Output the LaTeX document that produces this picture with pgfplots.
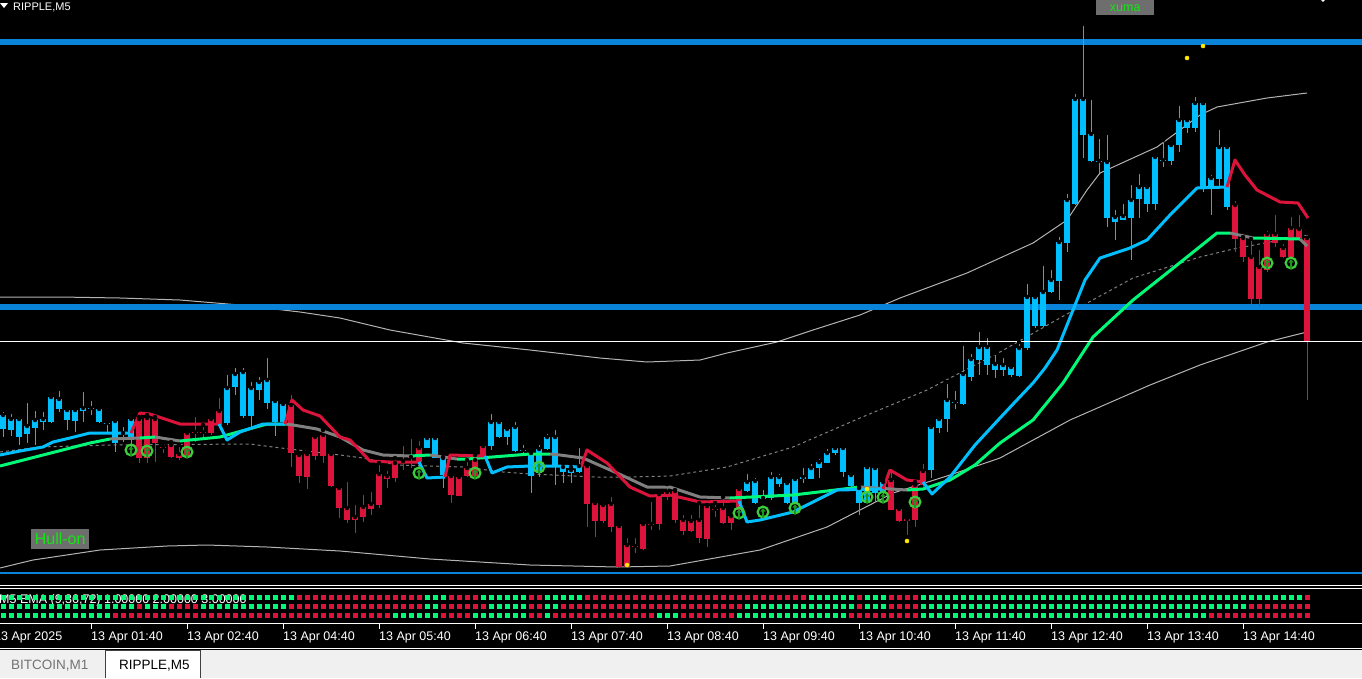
\documentclass[border=0pt]{standalone}
\usepackage{fontspec}
\setmainfont{Liberation Sans}
\usepackage{pgfplots}
\usepackage{pgfplotstable}
\pgfplotsset{compat=1.18}
\definecolor{hblue}{RGB}{10,132,216}
\definecolor{cblue}{RGB}{0,191,255}
\definecolor{cred}{RGB}{220,20,60}
\definecolor{sgreen}{RGB}{0,250,120}
\definecolor{lgray}{RGB}{128,128,128}
\definecolor{band}{RGB}{180,180,180}
\definecolor{arrowg}{RGB}{60,205,60}
\definecolor{darkg}{RGB}{30,150,30}
\definecolor{boxgray}{RGB}{110,110,110}
\definecolor{lbl}{RGB}{20,230,20}
\definecolor{tabbg}{RGB}{240,240,240}
\tikzset{tl/.style={anchor=base west, inner sep=0, text=white, font=\fontsize{12.5}{14}\selectfont}}
\pgfplotsset{gl/.style={sgreen, line width=3pt, line join=round}, yl/.style={lgray, line width=3pt, line join=round},
  bl/.style={cblue, line width=3pt, line join=round}, rl/.style={cred, line width=3pt, line join=round}}
\pgfdeclareplotmark{hullup}{%
  \pgfsetlinewidth{2.2pt}%
  \pgfsetstrokecolor{arrowg}%
  \pgfpathcircle{\pgfpointorigin}{5.4pt}%
  \pgfusepathqstroke
  \pgfsetstrokecolor{darkg}%
  \pgfsetfillcolor{darkg}%
  \pgfsetlinewidth{2.4pt}%
  \pgfpathmoveto{\pgfpoint{0pt}{-5.5pt}}\pgfpathlineto{\pgfpoint{0pt}{1pt}}%
  \pgfusepathqstroke
  \pgfpathmoveto{\pgfpoint{-2.6pt}{0.5pt}}\pgfpathlineto{\pgfpoint{2.6pt}{0.5pt}}\pgfpathlineto{\pgfpoint{0pt}{4pt}}\pgfpathclose
  \pgfusepathqfill
}
\pgfplotstableread{
i top bot hi lo b r1 r2 r3
0 415 429 410 437 1 1 1 1
1 419 430 412 436 1 1 1 1
2 419 437 415 445 1 1 1 1
3 426 434 401 443 1 1 1 1
4 420 428 409 445 1 1 1 1
5 419 422 410 430 1 1 1 1
6 397 422 393 423 1 1 1 1
7 399 409 389 412 1 1 1 1
8 410 420 408 430 1 1 1 1
9 410 421 407 432 1 1 1 1
10 408 411 390 422 1 1 1 1
11 408 409 399 415 1 1 1 1
12 409 422 407 423 1 1 1 1
13 423 424 420 433 1 1 1 1
14 421 443 418 452 1 1 1 0
15 433 434 425 442 1 1 1 0
16 419 440 418 448 1 1 1 0
17 419 458 417 463 0 1 0 0
18 418 458 415 463 0 1 1 0
19 419 443 417 462 0 1 1 0
20 447 448 443 453 0 1 1 0
21 445 457 442 458 0 1 0 0
22 454 458 445 460 0 1 0 0
23 433 457 431 457 0 1 0 0
24 432 433 415 442 0 1 0 0
25 432 433 425 437 0 1 1 0
26 419 433 415 435 0 1 1 0
27 411 425 396 427 0 1 1 0
28 388 423 373 425 1 1 1 0
29 374 387 366 395 1 1 1 0
30 372 416 366 418 1 1 1 0
31 388 416 380 427 1 1 1 0
32 382 390 375 400 1 1 1 0
33 380 403 356 409 1 1 1 0
34 401 422 398 436 1 1 1 0
35 404 422 400 423 1 1 1 0
36 405 453 393 467 0 1 0 0
37 455 476 453 483 0 0 0 0
38 454 477 452 489 0 0 0 0
39 437 456 436 460 0 0 0 0
40 435 456 430 463 0 0 0 0
41 454 486 452 487 0 0 0 0
42 488 508 486 518 0 0 0 0
43 508 520 480 523 0 0 0 0
44 517 520 503 533 0 0 0 0
45 507 517 493 522 0 0 0 0
46 504 509 490 515 0 0 0 0
47 474 505 463 508 0 0 0 0
48 476 479 469 488 0 0 0 0
49 463 478 458 482 0 0 0 1
50 461 462 444 470 0 0 0 1
51 457 458 437 468 0 0 0 1
52 448 462 439 468 0 0 0 1
53 438 448 435 448 1 1 1 1
54 438 458 437 458 1 1 1 1
55 458 475 457 488 1 1 0 0
56 476 495 475 503 0 0 0 0
57 477 496 473 496 0 0 0 0
58 468 476 460 477 0 0 0 0
59 460 476 455 477 0 0 0 1
60 446 456 445 457 0 1 0 1
61 422 446 412 450 1 1 1 1
62 422 437 420 438 1 1 1 1
63 429 437 428 445 1 1 1 1
64 427 451 420 452 1 1 1 1
65 450 451 443 453 1 1 1 1
66 453 476 450 493 1 0 0 0
67 449 473 443 477 1 0 0 0
68 437 449 432 450 1 1 1 1
69 437 467 428 485 1 1 1 0
70 467 472 463 483 1 1 0 0
71 470 473 467 483 1 1 0 0
72 466 472 446 473 1 1 0 0
73 466 504 465 527 0 0 0 0
74 503 521 502 537 0 0 0 0
75 505 521 504 523 0 0 0 0
76 504 527 495 532 0 0 0 0
77 526 567 523 568 0 0 0 0
78 545 567 536 568 0 0 0 0
79 546 547 536 553 0 0 0 0
80 524 549 522 550 0 0 0 0
81 524 525 500 530 0 0 0 0
82 494 524 493 530 0 0 0 1
83 492 497 484 500 0 0 0 1
84 491 520 490 523 0 0 0 1
85 520 531 513 535 0 0 0 0
86 521 531 513 532 0 0 0 0
87 520 538 503 543 0 0 0 0
88 506 539 505 547 0 0 0 0
89 509 510 503 517 0 0 0 0
90 508 523 497 524 0 0 0 0
91 516 523 513 530 0 0 0 0
92 489 510 488 512 0 0 0 1
93 482 491 472 492 1 0 1 1
94 481 503 476 504 1 0 1 1
95 498 499 488 500 1 0 1 1
96 477 498 470 500 1 0 1 1
97 477 484 472 487 1 0 1 1
98 483 503 482 504 1 0 1 1
99 479 503 475 504 1 0 1 1
100 477 479 466 483 1 0 1 1
101 468 479 462 479 1 1 1 1
102 462 468 457 478 1 1 1 1
103 453 463 447 463 1 1 1 1
104 448 453 448 455 1 1 1 1
105 448 472 445 477 1 1 1 1
106 475 486 473 487 1 1 1 0
107 488 503 487 515 1 0 0 0
108 467 503 467 503 1 1 1 0
109 468 493 467 502 1 1 1 0
110 482 493 480 495 1 1 1 0
111 480 510 467 510 0 0 0 0
112 509 521 508 522 0 0 0 0
113 519 521 518 535 0 0 0 0
114 485 520 482 527 0 0 0 0
115 471 485 462 487 0 1 1 1
116 427 470 425 478 1 1 1 1
117 419 428 415 433 1 1 1 1
118 400 419 382 432 1 1 1 1
119 402 403 389 409 1 1 1 1
120 374 404 344 405 1 1 1 1
121 359 377 352 381 1 1 1 1
122 347 360 330 375 1 1 1 1
123 347 365 336 375 1 1 1 1
124 364 370 353 378 1 1 1 1
125 365 370 356 376 1 1 1 1
126 367 375 366 377 1 1 1 1
127 348 376 342 377 1 1 1 1
128 297 348 282 350 1 1 1 1
129 297 326 293 328 1 1 1 1
130 292 326 264 327 1 1 1 1
131 280 292 268 293 1 1 1 1
132 242 281 235 300 1 1 1 1
133 200 243 192 252 1 1 1 1
134 99 204 92 205 1 1 1 1
135 99 135 24 158 1 1 1 1
136 134 161 98 162 1 1 1 1
137 161 162 137 173 1 1 1 1
138 162 218 133 227 1 1 1 1
139 217 222 208 240 1 1 1 1
140 216 220 202 220 1 1 1 1
141 200 218 183 260 1 1 1 1
142 187 199 172 218 1 1 1 1
143 187 204 184 212 1 1 1 1
144 157 204 153 210 1 1 1 1
145 160 161 140 167 1 1 1 1
146 145 161 142 165 1 1 1 1
147 120 145 104 152 1 1 1 1
148 120 128 120 133 1 1 1 1
149 103 128 95 132 1 1 1 1
150 103 189 103 192 1 1 1 1
151 178 189 173 215 1 1 1 0
152 147 179 128 187 1 1 1 0
153 147 207 144 210 1 1 1 0
154 205 239 199 252 0 1 1 0
155 238 257 237 262 0 1 1 0
156 257 299 239 304 0 1 0 0
157 267 299 248 306 0 1 0 0
158 234 270 229 272 0 1 0 0
159 234 243 213 247 0 1 0 0
160 248 257 242 258 0 1 0 0
161 228 257 215 258 0 1 0 0
162 229 238 213 240 0 1 0 0
163 238 342 233 400 0 0 0 0
}\candles
\begin{document}
\begin{tikzpicture}
\begin{axis}[
  name=ax, width=1362pt, height=678pt, scale only axis, hide axis,
  xmin=0, xmax=1362, ymin=0, ymax=678, y dir=reverse,
  axis background/.style={fill=black},
  unbounded coords=jump,
]
\coordinate (BL) at (axis cs:0,678);
\coordinate (TR) at (axis cs:1362,0);
% bands
\addplot[band, line width=1pt] coordinates {(0,297) (60,297) (120,298) (180,300) (240,305) (300,312) (340,318) (390,330) (463,343) (530,350) (600,358) (647,362) (700,360) (727,353) (777,342) (813,330) (860,315) (900,298) (967,273) (1033,243) (1067,220) (1087,190) (1100,173) (1157,147) (1180,130) (1200,115) (1217,107) (1267,98) (1307,93)};
\addplot[band, line width=1pt] coordinates {(0,568) (33,560) (100,550) (167,546) (207,545) (267,547) (340,551) (430,559) (530,565) (617,567) (670,566) (760,550) (827,527) (893,493) (950,475) (1000,458) (1070,420) (1150,385) (1200,365) (1267,342) (1307,332)};
\addplot[lgray, line width=1pt, dash pattern=on 3pt off 3pt] coordinates {(0,452) (40,447) (110,445) (250,444) (273,447) (340,455) (363,458) (397,465) (463,467) (503,472) (530,474) (597,477) (630,477) (670,476) (727,467) (793,447) (860,418) (927,390) (1000,352) (1067,314) (1133,278) (1200,257) (1233,249) (1307,235)};
% horizontal levels
\addplot[hblue, line width=6pt] coordinates {(0,42) (1362,42)};
\addplot[hblue, line width=6pt] coordinates {(0,307) (1362,307)};
\addplot[hblue, line width=2pt] coordinates {(0,572.5) (1362,572.5)};
% candles: wicks and bodies
\addplot[only marks, mark=none, restrict expr to domain={\thisrow{b}}{0.5:1.5},
  error bars/.cd, y dir=plus, y explicit, error mark=none,
  error bar style={line width=1pt, draw=cblue}]
  table[x expr=3+8*\thisrow{i}, y=hi, y error expr=\thisrow{lo}-\thisrow{hi}] {\candles};
\addplot[only marks, mark=none, restrict expr to domain={\thisrow{b}}{0.5:1.5},
  error bars/.cd, y dir=plus, y explicit, error mark=none,
  error bar style={line width=6.5pt, draw=cblue}]
  table[x expr=3+8*\thisrow{i}, y=top, y error expr=\thisrow{bot}-\thisrow{top}] {\candles};
\addplot[only marks, mark=none, restrict expr to domain={\thisrow{b}}{-0.5:0.5},
  error bars/.cd, y dir=plus, y explicit, error mark=none,
  error bar style={line width=1pt, draw=cred}]
  table[x expr=3+8*\thisrow{i}, y=hi, y error expr=\thisrow{lo}-\thisrow{hi}] {\candles};
\addplot[only marks, mark=none, restrict expr to domain={\thisrow{b}}{-0.5:0.5},
  error bars/.cd, y dir=plus, y explicit, error mark=none,
  error bar style={line width=6.5pt, draw=cred}]
  table[x expr=3+8*\thisrow{i}, y=top, y error expr=\thisrow{bot}-\thisrow{top}] {\candles};
% medium EMA (green / gray)
\addplot[gl] coordinates {(0,466) (43,455) (90,443) (110,439)};
\addplot[yl] coordinates {(110,439) (140,438)};
\addplot[gl] coordinates {(140,438) (155,437)};
\addplot[yl] coordinates {(155,437) (180,441)};
\addplot[gl] coordinates {(180,441) (220,437) (267,424) (285,424)};
\addplot[yl] coordinates {(285,424) (293,425) (317,429) (340,437) (363,450) (383,455) (410,456)};
\addplot[gl] coordinates {(410,456) (430,455)};
\addplot[yl] coordinates {(430,455) (457,459)};
\addplot[gl] coordinates {(457,459) (467,459) (530,454) (550,454)};
\addplot[yl] coordinates {(550,454) (560,455) (583,458) (617,473) (647,487) (670,487) (700,497) (730,498)};
\addplot[gl] coordinates {(730,498) (793,495) (827,491) (860,487)};
\addplot[yl] coordinates {(860,487) (907,490)};
\addplot[gl] coordinates {(907,490) (923,489) (950,480) (975,465) (1000,443) (1033,420) (1063,383) (1093,337) (1133,300) (1167,273) (1217,233) (1230,233)};
\addplot[yl] coordinates {(1230,233) (1253,238)};
\addplot[gl] coordinates {(1253,238) (1300,239)};
\addplot[yl] coordinates {(1300,239) (1307,246)};
% fast EMA (blue / red)
\addplot[bl] coordinates {(0,455) (20,451) (43,447) (53,442) (70,438) (90,433) (110,433) (131,433)};
\addplot[rl] coordinates {(131,433) (140,413) (150,414) (165,419) (180,424) (200,424) (219,424)};
\addplot[bl] coordinates {(219,424) (227,440) (240,432) (263,424) (285,424)};
\addplot[rl] coordinates {(285,424) (292,400) (303,410) (320,416) (340,437) (350,440) (370,461) (390,462) (419,462)};
\addplot[bl] coordinates {(419,462) (427,478) (445,477)};
\addplot[rl] coordinates {(445,477) (450,455) (485,456)};
\addplot[bl] coordinates {(485,456) (492,473) (507,467) (530,466) (555,466) (581,467)};
\addplot[rl] coordinates {(581,467) (587,450) (607,463) (630,487) (650,496) (670,495) (700,502) (739,501)};
\addplot[bl] coordinates {(739,501) (747,522) (760,520) (793,512) (837,490) (883,489)};
\addplot[rl] coordinates {(883,489) (890,470) (907,480) (923,482)};
\addplot[bl] coordinates {(923,482) (932,494) (950,477) (975,445) (1000,418) (1015,402) (1033,383) (1045,368) (1057,350) (1065,330) (1073,310) (1085,280) (1100,258) (1130,248) (1147,240) (1170,215) (1197,188) (1227,187)};
\addplot[rl] coordinates {(1227,187) (1235,160) (1245,175) (1257,190) (1280,202) (1298,203) (1308,218)};
% current price line
\addplot[white, line width=1pt] coordinates {(0,341.5) (1362,341.5)};
% signal marks
\addplot[only marks, mark=hullup] coordinates {(131,450) (147,451) (187,452) (419,473) (475,473) (539,467) (739,513) (763,512) (795,508) (867,497) (883,497) (915,502) (1267,263) (1291,263)};
\addplot[only marks, mark=*, mark size=2pt, draw=yellow!85!orange, fill=yellow, line width=0.5pt] coordinates {(627,565) (907,541) (1187,58) (1203,46) (867,489)};
\addplot[only marks, mark=*, mark size=1.5pt, white] coordinates {(1323,0)};
% indicator strip
\addplot[only marks, mark=square*, mark size=2pt, sgreen, restrict expr to domain={\thisrow{r1}}{0.5:1.5}] table[x expr=3+8*\thisrow{i}, y expr=597]{\candles};
\addplot[only marks, mark=square*, mark size=2pt, cred, restrict expr to domain={\thisrow{r1}}{-0.5:0.5}] table[x expr=3+8*\thisrow{i}, y expr=597]{\candles};
\addplot[only marks, mark=square*, mark size=2pt, sgreen, restrict expr to domain={\thisrow{r2}}{0.5:1.5}] table[x expr=3+8*\thisrow{i}, y expr=606]{\candles};
\addplot[only marks, mark=square*, mark size=2pt, cred, restrict expr to domain={\thisrow{r2}}{-0.5:0.5}] table[x expr=3+8*\thisrow{i}, y expr=606]{\candles};
\addplot[only marks, mark=square*, mark size=2pt, sgreen, restrict expr to domain={\thisrow{r3}}{0.5:1.5}] table[x expr=3+8*\thisrow{i}, y expr=615]{\candles};
\addplot[only marks, mark=square*, mark size=2pt, cred, restrict expr to domain={\thisrow{r3}}{-0.5:0.5}] table[x expr=3+8*\thisrow{i}, y expr=615]{\candles};
% separators
\addplot[white, line width=1pt] coordinates {(0,585) (1362,585)};
\addplot[white, line width=1pt] coordinates {(0,588) (1362,588)};
\addplot[white, line width=1pt] coordinates {(0,623.5) (1362,623.5)};
\addplot[white, line width=1.5pt] coordinates {(0,648.5) (1362,648.5)};
\addplot[white, line width=1pt] coordinates {(91,624)(91,629) (91,nan) (187,624)(187,629) (187,nan) (283,624)(283,629) (283,nan) (379,624)(379,629) (379,nan) (475,624)(475,629) (475,nan) (571,624)(571,629) (571,nan) (667,624)(667,629) (667,nan) (763,624)(763,629) (763,nan) (859,624)(859,629) (859,nan) (955,624)(955,629) (955,nan) (1051,624)(1051,629) (1051,nan) (1147,624)(1147,629) (1147,nan) (1243,624)(1243,629)};
% tab bar
\fill[tabbg] (axis cs:0,649.5) rectangle (axis cs:1362,678);
\filldraw[fill=white, draw=black!75, line width=1pt] (axis cs:105.5,678) -- (axis cs:105.5,650.5) -- (axis cs:200.5,650.5) -- (axis cs:200.5,678);
\node[anchor=base west, inner sep=0, text=black!55, font=\fontsize{13.5}{15}\selectfont] at (axis cs:11,669) {BITCOIN,M1};
\node[anchor=base west, inner sep=0, text=black, font=\fontsize{13.5}{15}\selectfont] at (axis cs:119,669) {RIPPLE,M5};
% texts
\fill[white] (axis cs:0,3) -- (axis cs:8,3) -- (axis cs:4,8) -- cycle;
\node[anchor=base west, inner sep=0, text=white, font=\fontsize{11}{13}\selectfont] at (axis cs:13,10) {RIPPLE,M5};
\node[anchor=north west, inner sep=0, fill=boxgray, text=lbl, minimum width=58pt, minimum height=15pt, font=\fontsize{12.5}{14}\selectfont] at (axis cs:1096,0) {xuma};
\node[anchor=north west, inner sep=0, fill=boxgray, text=lbl, minimum width=58pt, minimum height=20pt, font=\fontsize{16}{18}\selectfont] at (axis cs:31,529) {Hull-on};
\node[anchor=base west, inner sep=0, text=white, font=\fontsize{12.5}{14}\selectfont] at (axis cs:-1,603) {M5 EMA (9,36,72) 1.00000 2.00000 3.00000};
\node[tl] at (axis cs:-6,640) {13 Apr 2025};
\node[tl] at (axis cs:91,640) {13 Apr 01:40};
\node[tl] at (axis cs:187,640) {13 Apr 02:40};
\node[tl] at (axis cs:283,640) {13 Apr 04:40};
\node[tl] at (axis cs:379,640) {13 Apr 05:40};
\node[tl] at (axis cs:475,640) {13 Apr 06:40};
\node[tl] at (axis cs:571,640) {13 Apr 07:40};
\node[tl] at (axis cs:667,640) {13 Apr 08:40};
\node[tl] at (axis cs:763,640) {13 Apr 09:40};
\node[tl] at (axis cs:859,640) {13 Apr 10:40};
\node[tl] at (axis cs:955,640) {13 Apr 11:40};
\node[tl] at (axis cs:1051,640) {13 Apr 12:40};
\node[tl] at (axis cs:1147,640) {13 Apr 13:40};
\node[tl] at (axis cs:1243,640) {13 Apr 14:40};
\end{axis}
\pgfresetboundingbox
\useasboundingbox (BL) rectangle (TR);
\end{tikzpicture}
\end{document}
